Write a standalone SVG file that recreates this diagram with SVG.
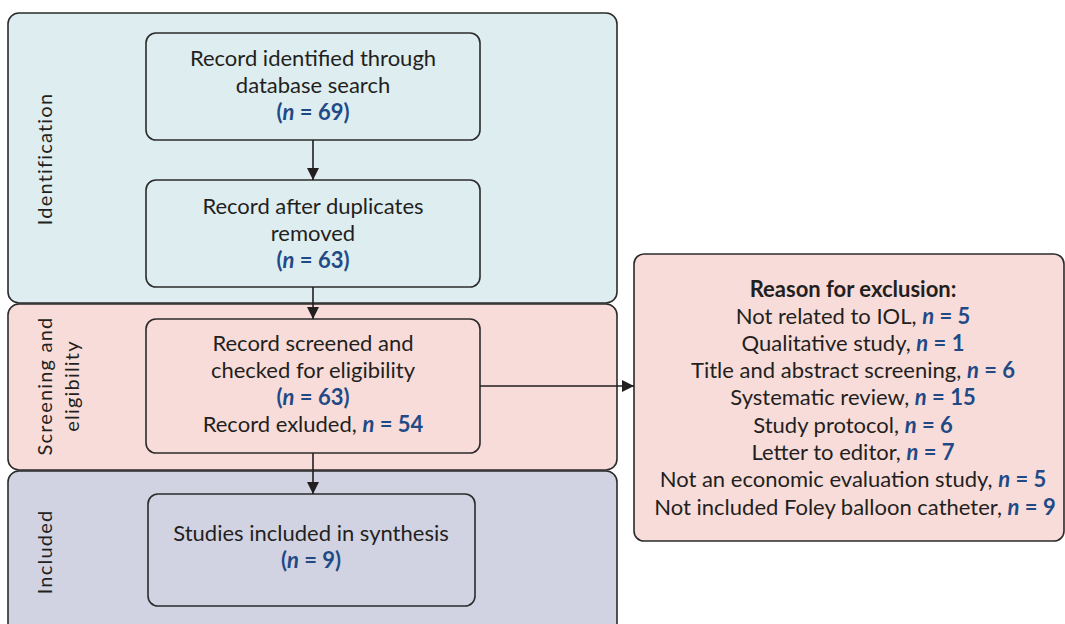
<svg xmlns="http://www.w3.org/2000/svg" width="1065" height="624" viewBox="0 0 1065 624">
<style>
.panel{stroke:#2b2b2b;stroke-width:1.6}
.box{stroke:#2b2b2b;stroke-width:1.6}
.t{font-family:Lato,"Open Sans","Liberation Sans",sans-serif;font-size:22px;fill:#231f20;text-anchor:middle}
.side{font-family:Lato,"Open Sans","Liberation Sans",sans-serif;font-size:20px;fill:#231f20;text-anchor:middle;letter-spacing:1.2px}
.n{fill:#1f4a86;font-weight:bold}
.i{font-style:italic}
.b{font-weight:bold}
.c{stroke:#231f20;stroke-width:1.6;fill:none}
</style>
<defs>
<marker id="ah" viewBox="0 0 12 12" refX="12" refY="6" markerWidth="12" markerHeight="12" markerUnits="userSpaceOnUse" orient="auto">
<path d="M0,0 L12,6 L0,12 z" fill="#231f20"/>
</marker>
</defs>
<g id="panel-identification">
<rect class="panel" x="8" y="13" width="609" height="290" rx="11" fill="#deedf0"/>
<text class="side" x="52" y="159" transform="rotate(-90 52 159)">Identification</text>
</g>
<g id="panel-screening">
<rect class="panel" x="8" y="304" width="609" height="166" rx="11" fill="#f8dcd9"/>
<text class="side" transform="rotate(-90 52 386)" x="52" y="386">Screening and</text>
<text class="side" transform="rotate(-90 79 386)" x="79" y="386">eligibility</text>
</g>
<g id="panel-included">
<rect class="panel" x="8" y="471" width="609" height="165" rx="11" fill="#d2d3e2"/>
<text class="side" x="52" y="552" transform="rotate(-90 52 552)">Included</text>
</g>
<g id="box-identified">
<rect class="box" x="146" y="33" width="334" height="107" rx="10" fill="#deedf0"/>
<text class="t" x="313" y="66">Record identified through</text>
<text class="t" x="313" y="93">database search</text>
<text class="t n" x="313" y="120">(<tspan class="i">n</tspan> = 69)</text>
</g>
<g id="box-duplicates">
<rect class="box" x="146" y="180" width="334" height="107" rx="10" fill="#deedf0"/>
<text class="t" x="313" y="214">Record after duplicates</text>
<text class="t" x="313" y="241">removed</text>
<text class="t n" x="313" y="268">(<tspan class="i">n</tspan> = 63)</text>
</g>
<g id="box-screened">
<rect class="box" x="146" y="319" width="334" height="134" rx="10" fill="#f8dcd9"/>
<text class="t" x="313" y="351">Record screened and</text>
<text class="t" x="313" y="378">checked for eligibility</text>
<text class="t n" x="313" y="405">(<tspan class="i">n</tspan> = 63)</text>
<text class="t" x="313" y="432">Record exluded, <tspan class="n i">n</tspan><tspan class="n"> = 54</tspan></text>
</g>
<g id="box-included">
<rect class="box" x="148" y="494" width="327" height="112" rx="10" fill="#d2d3e2"/>
<text class="t" x="311" y="541">Studies included in synthesis</text>
<text class="t n" x="311" y="568">(<tspan class="i">n</tspan> = 9)</text>
</g>
<g id="box-exclusion">
<rect class="box" x="634" y="254" width="430" height="287" rx="10" fill="#f8dcd9"/>
<text class="t b" x="853" y="297">Reason for exclusion:</text>
<text class="t" x="853" y="324">Not related to IOL, <tspan class="n i">n</tspan><tspan class="n"> = 5</tspan></text>
<text class="t" x="853" y="351">Qualitative study, <tspan class="n i">n</tspan><tspan class="n"> = 1</tspan></text>
<text class="t" x="853" y="378">Title and abstract screening, <tspan class="n i">n</tspan><tspan class="n"> = 6</tspan></text>
<text class="t" x="853" y="405">Systematic review, <tspan class="n i">n</tspan><tspan class="n"> = 15</tspan></text>
<text class="t" x="853" y="433">Study protocol, <tspan class="n i">n</tspan><tspan class="n"> = 6</tspan></text>
<text class="t" x="853" y="460">Letter to editor, <tspan class="n i">n</tspan><tspan class="n"> = 7</tspan></text>
<text class="t" x="853" y="487">Not an economic evaluation study, <tspan class="n i">n</tspan><tspan class="n"> = 5</tspan></text>
<text class="t" x="855" y="515">Not included Foley balloon catheter, <tspan class="n i">n</tspan><tspan class="n"> = 9</tspan></text>
</g>
<g id="connectors">
<line class="c" x1="313" y1="140" x2="313" y2="180" marker-end="url(#ah)"/>
<line class="c" x1="313" y1="287" x2="313" y2="319" marker-end="url(#ah)"/>
<line class="c" x1="313" y1="453" x2="313" y2="494" marker-end="url(#ah)"/>
<line class="c" x1="480" y1="386" x2="634" y2="386" marker-end="url(#ah)"/>
</g>
</svg>
